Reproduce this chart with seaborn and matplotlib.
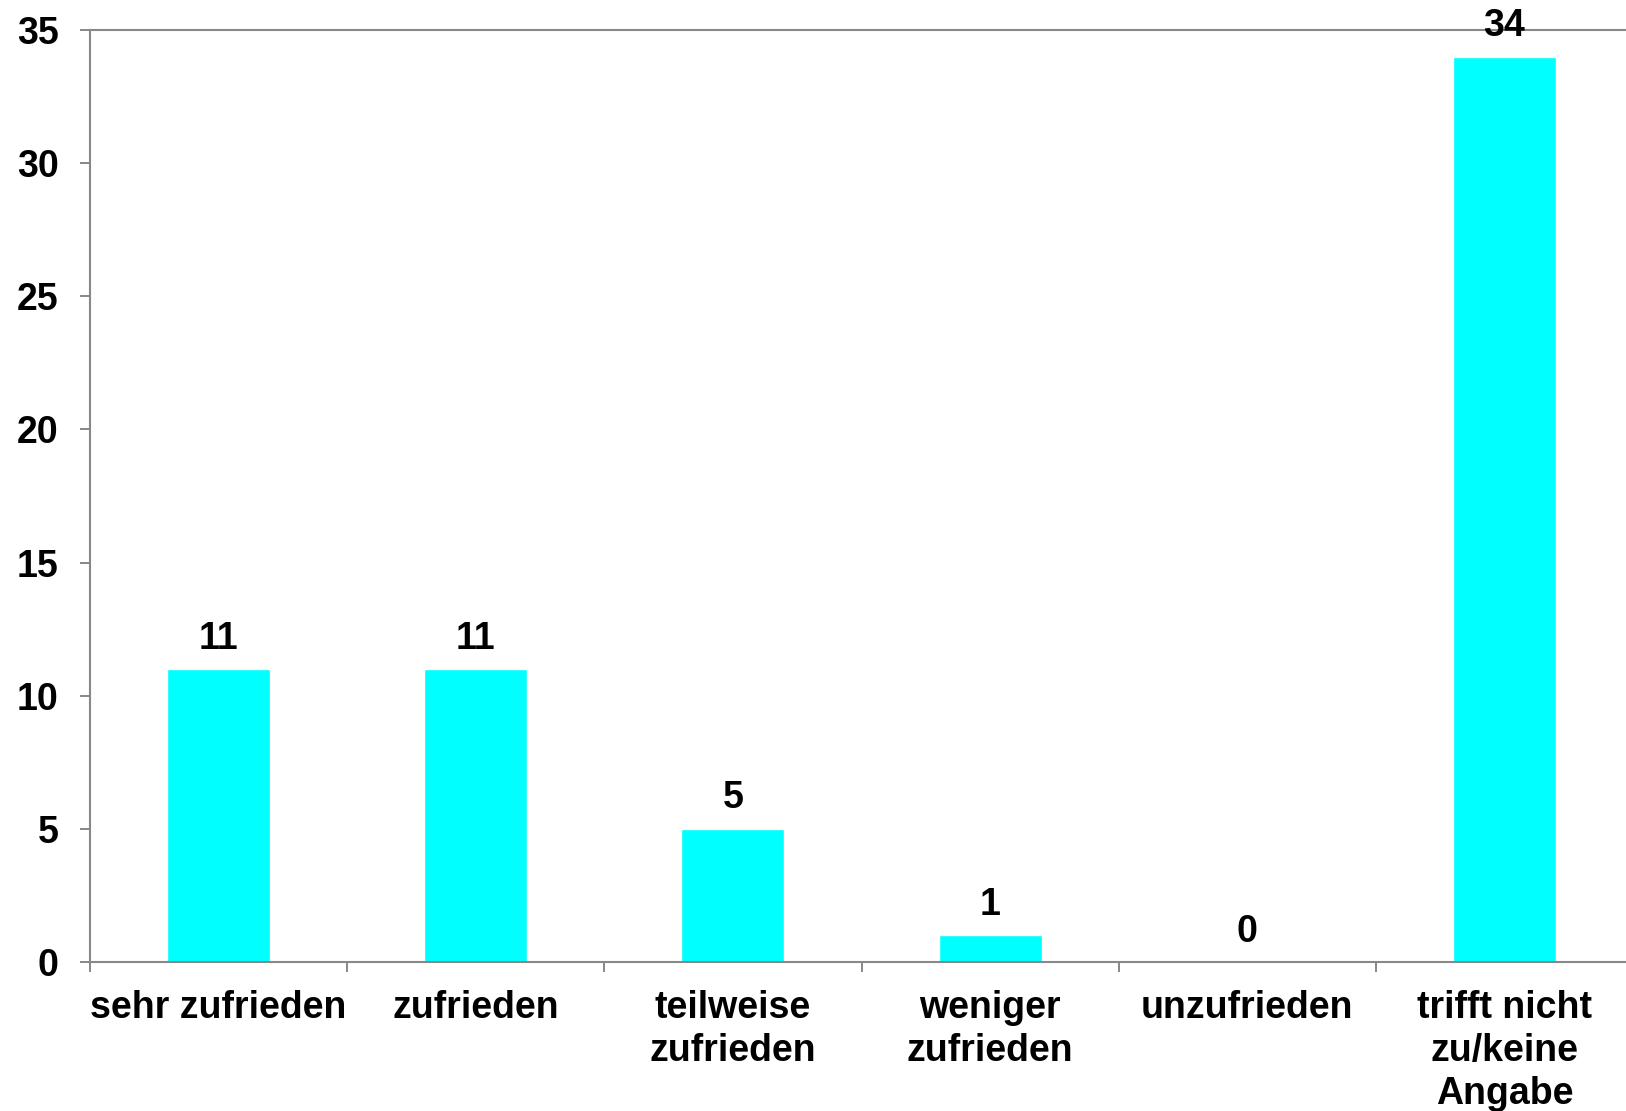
import numpy as np
import matplotlib
matplotlib.use("Agg")
import matplotlib.pyplot as plt
import seaborn as sns

categories = [
    "sehr zufrieden",
    "zufrieden",
    "teilweise\nzufrieden",
    "weniger\nzufrieden",
    "unzufrieden",
    "trifft nicht\nzu/keine\nAngabe",
]
counts = [11, 11, 5, 1, 0, 34]
y_ticks = [0, 5, 10, 15, 20, 25, 30, 35]

sns.set_style("white")
plt.rcParams["font.family"] = ["Liberation Sans", "DejaVu Sans"]
plt.rcParams["font.weight"] = "bold"
plt.rcParams["text.color"] = "black"
plt.rcParams["xtick.color"] = "black"
plt.rcParams["ytick.color"] = "black"

W, H = 1626, 1111
fig = plt.figure(figsize=(W / 100, H / 100), dpi=100)
# axes runs past the right edge of the figure, as in the original
ax = fig.add_axes([90 / W, (H - 962) / H, 1543 / W, 932 / H])

sns.barplot(x=categories, y=counts, color="#00FFFF", width=0.4,
            saturation=1, ax=ax)

ax.set_xlim(-0.5, len(categories) - 0.5)
ax.set_ylim(0, 35)
ax.set_yticks(y_ticks)
ax.set_yticklabels([str(t) for t in y_ticks])

# tick marks on category boundaries, labels at centres
ax.set_xticks(np.arange(-0.5, len(categories), 1), minor=True)
ax.tick_params(axis="x", which="major", bottom=True, length=0, pad=20,
               labelsize=27, labelcolor="black")
ax.tick_params(axis="x", which="minor", bottom=True, length=7.5, width=1.4,
               color="#888888", direction="out")
ax.tick_params(axis="y", left=True, length=7.5, width=1.4, color="#888888",
               direction="out", pad=15, labelsize=27, labelcolor="black")
for lab in ax.get_xticklabels():
    lab.set_fontweight("bold")
    lab.set_linespacing(1.26)
for lab in ax.get_yticklabels():
    lab.set_fontweight("bold")

for side in ["left", "bottom", "top"]:
    ax.spines[side].set_visible(True)
    ax.spines[side].set_color("#888888")
    ax.spines[side].set_linewidth(1.5)
ax.spines["right"].set_visible(False)

ax.bar_label(ax.containers[0], labels=[str(v) for v in counts],
             padding=9, fontsize=27, fontweight="bold", color="black")

ax.set_xlabel("")
ax.set_ylabel("")

fig.savefig("out.png", dpi=100)
